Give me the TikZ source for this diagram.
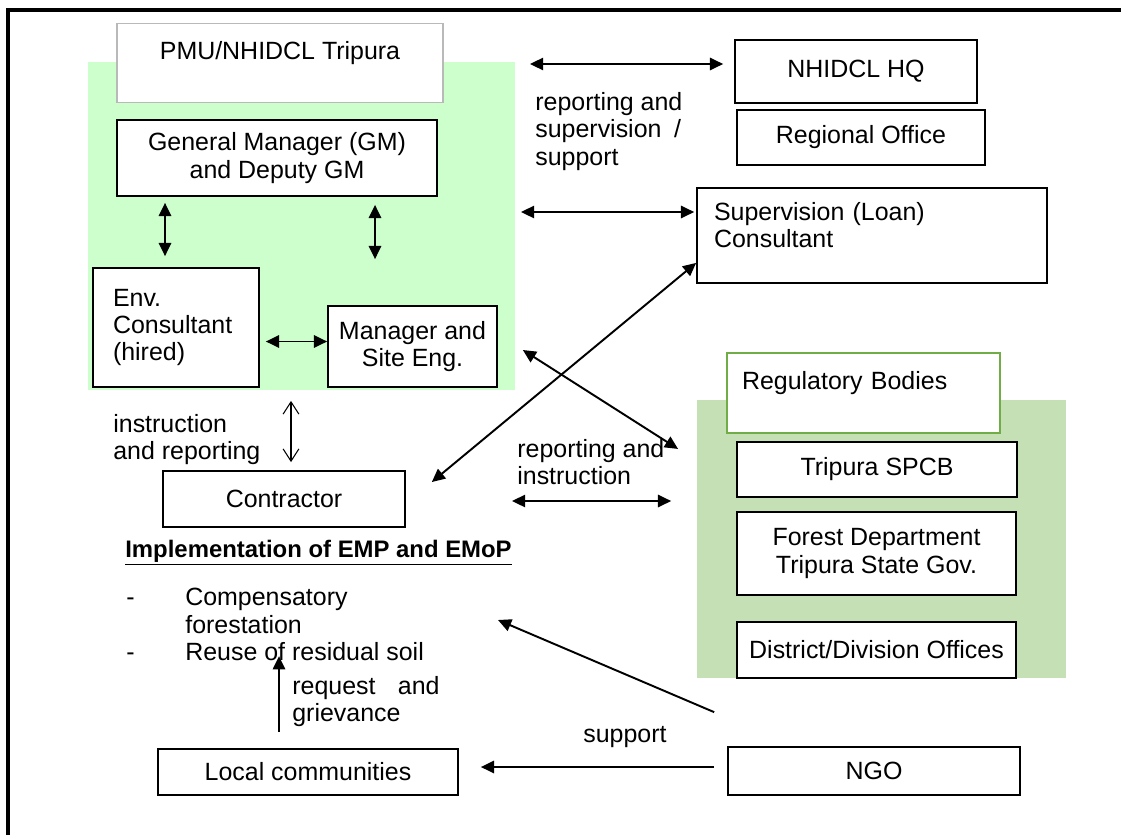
\documentclass[tikz,border=0pt]{standalone}
\usepackage{fontspec}
\setmainfont{Liberation Sans}
\usetikzlibrary{arrows.meta,positioning}

\definecolor{pmugreen}{HTML}{CCFFCC}
\definecolor{reggreen}{HTML}{C5E0B4}
\definecolor{regedge}{HTML}{70AD47}

\tikzset{
  box/.style={draw, line width=1pt, fill=white, inner sep=0pt, align=center},
  dbl/.style={{Triangle[length=7.5pt,width=7pt]}-{Triangle[length=7.5pt,width=7pt]}, line width=1.1pt},
  sgl/.style={-{Triangle[length=7.5pt,width=7pt]}, line width=1.1pt},
  openarr/.style={{Straight Barb[length=7pt,width=9pt]}-{Straight Barb[length=7pt,width=9pt]}, line width=0.6pt},
  lbl/.style={inner sep=0pt, align=left, anchor=north west},
}

\begin{document}
\begin{tikzpicture}[x=0.02cm, y=-0.02cm,
  every node/.style={font=\fontsize{14.2}{15.6}\selectfont}]
\useasboundingbox (0,0) rectangle (1121,835);

% frame and shaded groups
\draw[line width=2pt] (8,835) -- (8,10) -- (1121,10);
\fill[pmugreen] (88,62) rectangle (515,390);
\fill[reggreen] (697,400) rectangle (1066,678);

% PMU group
\node[box, draw=gray!55, minimum width=6.52cm, text height=0.72cm, text depth=0.86cm] (pmu) at (280,63) {PMU/NHIDCL Tripura};
\node[box, minimum width=6.4cm, minimum height=1.52cm] (gm) at (277,158) {General Manager (GM)\\and Deputy GM};
\node[box, minimum width=3.32cm, minimum height=2.38cm, text width=2.52cm, align=left] (env) at (176,327.5) {Env.\\Consultant\\(hired)};
\node[box, minimum width=3.38cm, minimum height=1.62cm] (mgr) at (412.5,346.5) {Manager and\\Site Eng.};

% upper right
\node[box, minimum width=4.84cm, minimum height=1.26cm] (hq) at (856,71.5) {NHIDCL HQ};
\node[box, minimum width=4.96cm, minimum height=1.1cm] (ro) at (861,137.5) {Regional Office};
\node[box, minimum width=7cm, text width=6.32cm, align=left, text height=0.64cm, text depth=1.26cm] (sup) at (872,235.5) {Supervision (Loan)\\Consultant};

% regulatory group
\node[box, draw=regedge, line width=1.1pt, minimum width=5.46cm, text width=4.86cm, align=left, text height=0.72cm, text depth=0.88cm] (reg) at (863.5,393) {Regulatory Bodies};
\node[box, minimum width=5.6cm, minimum height=1.1cm] (spcb) at (877,469.5) {Tripura SPCB};
\node[box, minimum width=5.58cm, minimum height=1.66cm] (forest) at (876.5,553.5) {Forest Department\\Tripura State Gov.};
\node[box, minimum width=5.58cm, minimum height=1.12cm] (dist) at (876.5,650) {District/Division Offices};

% lower part
\node[box, minimum width=4.84cm, minimum height=1.12cm] (ctr) at (284,499) {Contractor};
\node[box, minimum width=6cm, minimum height=0.92cm] (local) at (308,772) {Local communities};
\node[box, minimum width=5.84cm, minimum height=0.96cm] (ngo) at (874,771) {NGO};

% texts
\node[lbl] (repsup) at (535,92) {reporting and\\supervision\hspace{0.5em}/\\support};
\node[lbl] (instrep) at (113,414) {instruction\\and reporting};
\node[lbl] (repins) at (517,439) {reporting and\\instruction};
\node[anchor=west, inner sep=0pt, font=\fontsize{13.6}{15.6}\selectfont\bfseries] (emp) at (125,553) {\underline{Implementation of EMP and EMoP}};
\node[lbl] (tasks) at (126,588) {\makebox[1.18cm][l]{-}Compensatory\\\hspace*{1.18cm}forestation\\\makebox[1.18cm][l]{-}Reuse of residual soil};
\node[lbl] (reqgr) at (292,676) {request\hspace{0.9em}and\\grievance};
\node[anchor=west, inner sep=0pt] (supp) at (583,737) {support};

% free arrow ends
\coordinate (hqL) at (530,64);
\coordinate (supL) at (521,212);
\coordinate (rgL) at (512,501);
\coordinate (empR) at (498,620);

% connectors
\draw[dbl] (hqL) -- ([xshift=-0.22cm]hq.west |- hqL);
\draw[dbl] (supL) -- ([xshift=-0.04cm]sup.west |- supL);
\draw[dbl] ([xshift=-0.22cm,yshift=-0.12cm]env.north |- gm.south) -- ([xshift=-0.22cm,yshift=0.22cm]env.north);
\draw[dbl] ([xshift=-0.75cm,yshift=-0.16cm]mgr.north |- gm.south) -- ([xshift=-0.75cm,yshift=0.92cm]mgr.north);
\draw[dbl] ([xshift=0.12cm,yshift=0.1cm]env.east |- mgr.west) -- ([yshift=0.1cm]mgr.west);
\draw[openarr] ([xshift=0.14cm,yshift=-0.26cm]ctr.north |- env.south) -- ([xshift=0.14cm,yshift=0.16cm]ctr.north);
\draw[dbl] ([xshift=0.52cm,yshift=0.34cm]ctr.east) -- ([yshift=0.42cm]sup.south west);
\draw[dbl] ([xshift=0.5cm,yshift=-0.07cm]mgr.east) -- ([xshift=-0.96cm,yshift=-0.3cm]reg.south west);
\draw[dbl] (rgL) -- ([xshift=-1.3cm]spcb.west |- rgL);
\draw[sgl] ([xshift=-0.26cm,yshift=0.68cm]ngo.north west) -- (empR);
\draw[sgl, shorten <=0.26cm, shorten >=0.44cm] ([yshift=0.08cm]ngo.west) -- ([yshift=0.08cm]ngo.west -| local.east);
\draw[sgl] ([xshift=-0.58cm,yshift=0.32cm]local.north) -- ([xshift=-0.58cm,yshift=1.84cm]local.north);
\end{tikzpicture}
\end{document}
